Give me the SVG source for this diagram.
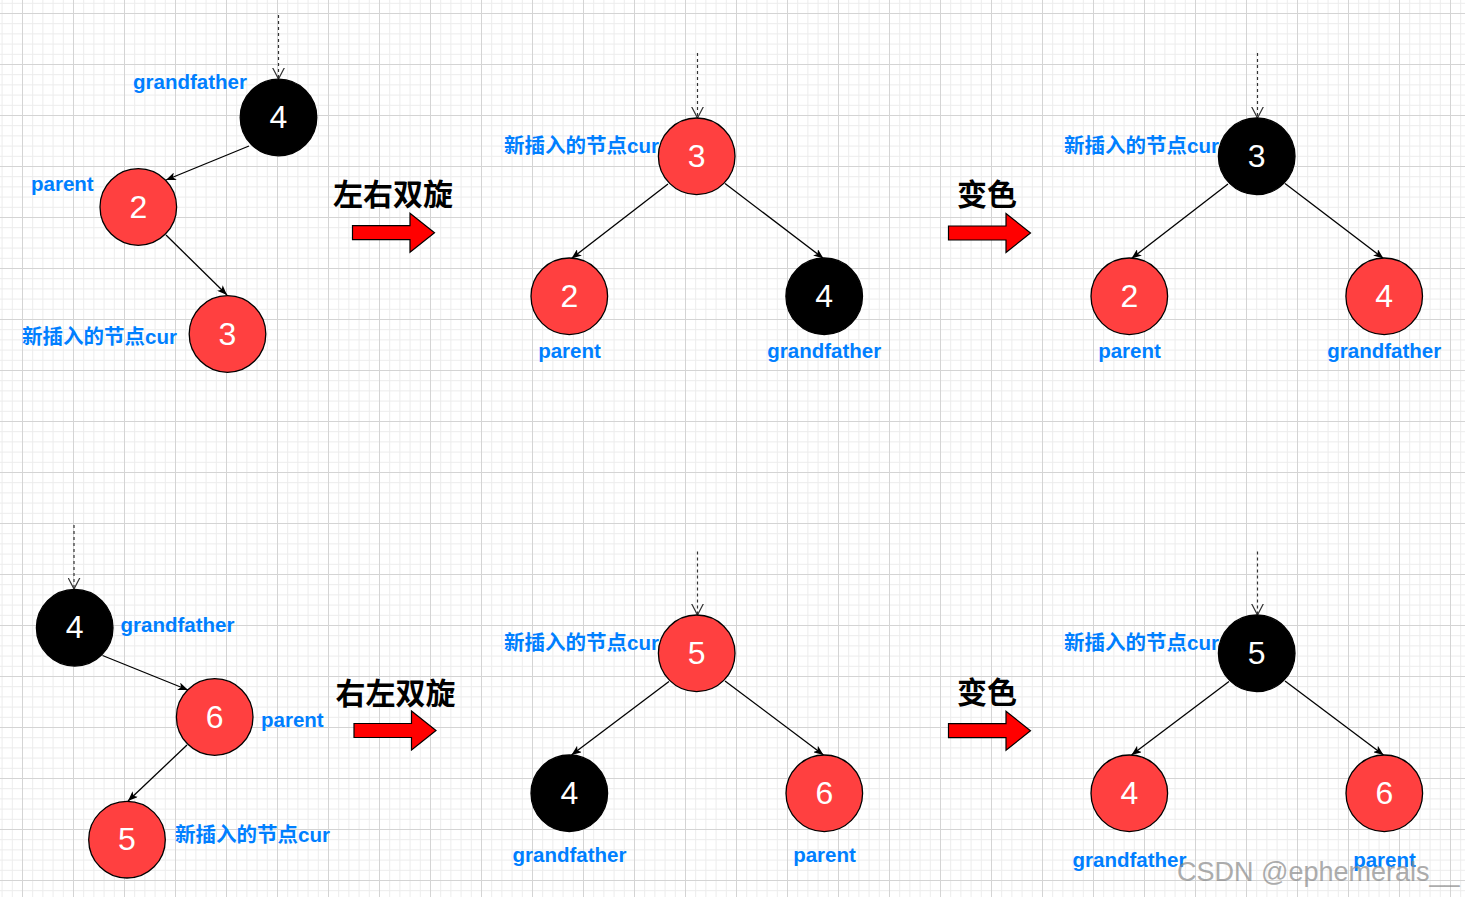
<svg xmlns="http://www.w3.org/2000/svg" xmlns:xlink="http://www.w3.org/1999/xlink" width="1465" height="897" viewBox="0 0 1465 897">
<style>
.red{fill:#FF4040;stroke:#000;stroke-width:1.3}
.blk{fill:#000;stroke:#000;stroke-width:1.3}
.num{font-family:"Liberation Sans",Arial,sans-serif;font-size:32px;fill:#fff;text-anchor:middle}
.lbl{font-family:"Liberation Sans","Noto Sans CJK SC",sans-serif;font-size:20.5px;font-weight:bold;fill:#007FFF}
.mid{text-anchor:middle}
.op{font-family:"Noto Sans CJK SC",sans-serif;font-size:30px;font-weight:bold;fill:#000}
.edge{stroke:#000;stroke-width:1.3;fill:none;marker-end:url(#ah)}
.dash{stroke:#333;stroke-width:1.2;fill:none;stroke-dasharray:3 3;marker-end:url(#oh)}
.big{fill:#FF0000;stroke:#000;stroke-width:1.2}
.wm{font-family:"Liberation Sans",Arial,sans-serif;font-size:27px;fill:#8a8a8a;opacity:0.7}
</style>
<defs>
<pattern id="grid" patternUnits="userSpaceOnUse" x="22" y="13" width="51" height="51">
<path d="M10.7 0V51M20.9 0V51M31.1 0V51M41.3 0V51M0 10.7H51M0 20.9H51M0 31.1H51M0 41.3H51" stroke="#ececec" stroke-width="1" fill="none"/>
<path d="M0.5 0V51M0 0.5H51" stroke="#d4d4d4" stroke-width="1" fill="none"/>
</pattern>
<marker id="ah" viewBox="0 0 10 8" refX="10" refY="4" markerWidth="10" markerHeight="8" markerUnits="userSpaceOnUse" orient="auto">
<path d="M0,0 L10,4 L0,8 L2.5,4 Z" fill="#000"/>
</marker>
<marker id="oh" viewBox="0 0 12 13" refX="11.5" refY="6.5" markerWidth="12" markerHeight="13" markerUnits="userSpaceOnUse" orient="auto">
<path d="M0,0.5 L11.5,6.5 L0,12.5" fill="none" stroke="#333" stroke-width="1.2"/>
</marker>
<path id="bigArrow" class="big" d="M0,-7 H57.5 V-19.5 L82,0 L57.5,19.5 V7 H0 Z"/>
</defs>
<rect width="1465" height="897" fill="#fff"/>
<rect width="1465" height="897" fill="url(#grid)"/>

<g id="connectors">
<line class="dash" x1="278.5" y1="15" x2="278.5" y2="79"/>
<line class="edge" x1="249" y1="146" x2="166" y2="180"/>
<line class="edge" x1="166" y1="235" x2="227" y2="295"/>
<line class="dash" x1="697.5" y1="53" x2="697.5" y2="118"/>
<line class="edge" x1="668" y1="184" x2="571.5" y2="258.5"/>
<line class="edge" x1="725" y1="183.5" x2="823.5" y2="258.5"/>
<line class="dash" x1="1257.5" y1="53" x2="1257.5" y2="118"/>
<line class="edge" x1="1228" y1="184" x2="1131.5" y2="258.5"/>
<line class="edge" x1="1285" y1="183.5" x2="1383.5" y2="258.5"/>
<line class="dash" x1="74" y1="525" x2="74" y2="589"/>
<line class="edge" x1="102.5" y1="655.5" x2="188" y2="690"/>
<line class="edge" x1="187" y1="745" x2="128" y2="801"/>
<line class="dash" x1="697.5" y1="551.5" x2="697.5" y2="615"/>
<line class="edge" x1="669" y1="681.5" x2="571.5" y2="755"/>
<line class="edge" x1="725" y1="681" x2="823.5" y2="755"/>
<line class="dash" x1="1257.5" y1="551.5" x2="1257.5" y2="615"/>
<line class="edge" x1="1229" y1="681.5" x2="1131.5" y2="755"/>
<line class="edge" x1="1285" y1="681" x2="1383.5" y2="755"/>
</g>

<!-- top-left tree -->
<g id="tl-4"><circle class="blk" cx="278.5" cy="117.5" r="38.3"/><text class="num" x="278.5" y="128">4</text></g>
<g id="tl-2"><circle class="red" cx="138.3" cy="207" r="38.3"/><text class="num" x="138.3" y="217.5">2</text></g>
<g id="tl-3"><circle class="red" cx="227.5" cy="334" r="38.3"/><text class="num" x="227.5" y="344.5">3</text></g>
<g id="tl-labels">
<text class="lbl" x="133" y="89">grandfather</text>
<text class="lbl" x="31" y="191">parent</text>
<text class="lbl" x="22" y="344">新插入的节点cur</text>
</g>

<!-- operator 1 -->
<g id="op1"><text class="op" x="333" y="205">左右双旋</text><use xlink:href="#bigArrow" x="352.5" y="232.7"/></g>

<!-- top-middle tree -->
<g id="tm-3"><circle class="red" cx="696.7" cy="156.3" r="38.3"/><text class="num" x="696.7" y="166.5">3</text></g>
<g id="tm-2"><circle class="red" cx="569.3" cy="296.3" r="38.3"/><text class="num" x="569.3" y="306.5">2</text></g>
<g id="tm-4"><circle class="blk" cx="824.2" cy="296.3" r="38.3"/><text class="num" x="824.2" y="306.5">4</text></g>
<g id="tm-labels">
<text class="lbl" x="504" y="153">新插入的节点cur</text>
<text class="lbl mid" x="569.5" y="358">parent</text>
<text class="lbl mid" x="824.3" y="358">grandfather</text>
</g>

<!-- operator 2 -->
<g id="op2"><text class="op" x="957" y="205">变色</text><use xlink:href="#bigArrow" x="948.5" y="233"/></g>

<!-- top-right tree -->
<g id="tr-3"><circle class="blk" cx="1256.7" cy="156.3" r="38.3"/><text class="num" x="1256.7" y="166.5">3</text></g>
<g id="tr-2"><circle class="red" cx="1129.3" cy="296.3" r="38.3"/><text class="num" x="1129.3" y="306.5">2</text></g>
<g id="tr-4"><circle class="red" cx="1384.2" cy="296.3" r="38.3"/><text class="num" x="1384.2" y="306.5">4</text></g>
<g id="tr-labels">
<text class="lbl" x="1064" y="153">新插入的节点cur</text>
<text class="lbl mid" x="1129.5" y="358">parent</text>
<text class="lbl mid" x="1384.3" y="358">grandfather</text>
</g>

<!-- bottom-left tree -->
<g id="bl-4"><circle class="blk" cx="74.7" cy="627.7" r="38.3"/><text class="num" x="74.7" y="638">4</text></g>
<g id="bl-6"><circle class="red" cx="214.7" cy="717" r="38.3"/><text class="num" x="214.7" y="727.5">6</text></g>
<g id="bl-5"><circle class="red" cx="127" cy="839.7" r="38.3"/><text class="num" x="127" y="850">5</text></g>
<g id="bl-labels">
<text class="lbl" x="120.5" y="632">grandfather</text>
<text class="lbl" x="261" y="727">parent</text>
<text class="lbl" x="175" y="842">新插入的节点cur</text>
</g>

<!-- operator 3 -->
<g id="op3"><text class="op" x="335.5" y="703.5">右左双旋</text><use xlink:href="#bigArrow" x="354" y="730.5"/></g>

<!-- bottom-middle tree -->
<g id="bm-5"><circle class="red" cx="696.7" cy="653.3" r="38.3"/><text class="num" x="696.7" y="663.5">5</text></g>
<g id="bm-4"><circle class="blk" cx="569.3" cy="793.3" r="38.3"/><text class="num" x="569.3" y="803.5">4</text></g>
<g id="bm-6"><circle class="red" cx="824.3" cy="793.3" r="38.3"/><text class="num" x="824.3" y="803.5">6</text></g>
<g id="bm-labels">
<text class="lbl" x="504" y="650">新插入的节点cur</text>
<text class="lbl mid" x="569.5" y="862">grandfather</text>
<text class="lbl mid" x="824.5" y="862">parent</text>
</g>

<!-- operator 4 -->
<g id="op4"><text class="op" x="957" y="702.5">变色</text><use xlink:href="#bigArrow" x="948.5" y="730.7"/></g>

<!-- bottom-right tree -->
<g id="br-5"><circle class="blk" cx="1256.7" cy="653.3" r="38.3"/><text class="num" x="1256.7" y="663.5">5</text></g>
<g id="br-4"><circle class="red" cx="1129.3" cy="793.3" r="38.3"/><text class="num" x="1129.3" y="803.5">4</text></g>
<g id="br-6"><circle class="red" cx="1384.3" cy="793.3" r="38.3"/><text class="num" x="1384.3" y="803.5">6</text></g>
<g id="br-labels">
<text class="lbl" x="1064" y="650">新插入的节点cur</text>
<text class="lbl mid" x="1129.5" y="867">grandfather</text>
<text class="lbl mid" x="1384.5" y="867">parent</text>
</g>

<text class="wm" x="1177" y="881">CSDN @ephemerals__</text>
</svg>
